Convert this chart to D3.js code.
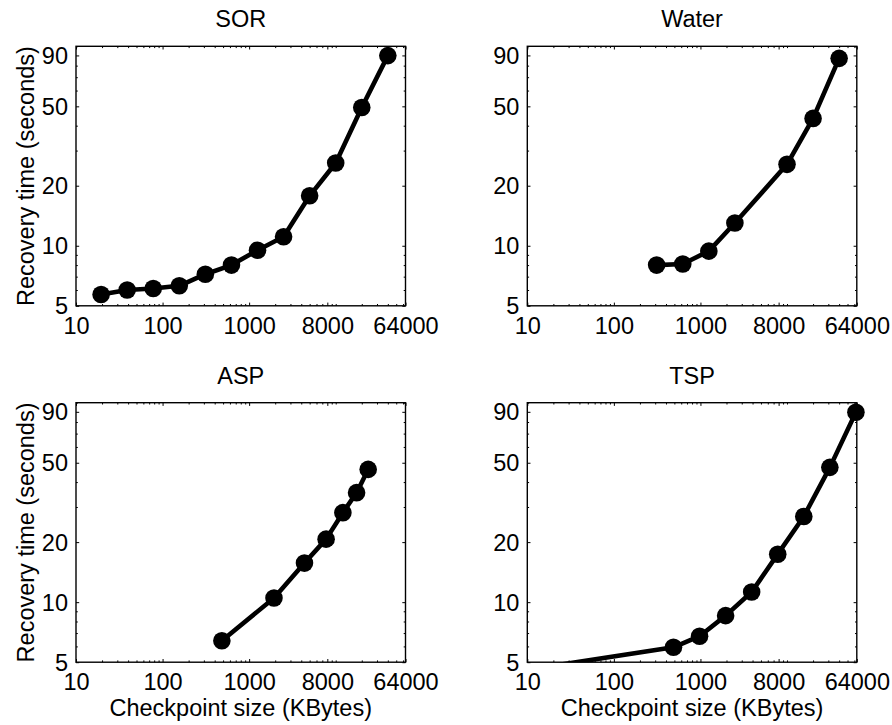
<!DOCTYPE html>
<html>
<head>
<meta charset="utf-8">
<script src="https://cdn.jsdelivr.net/npm/d3@7"></script>
<style>
  html, body { margin: 0; padding: 0; background: #fff; }
  svg { display: block; font-family: "Liberation Sans", Arial, Helvetica, sans-serif; }
</style>
</head>
<body>
<svg id="chart" width="892" height="725"></svg>
<script>
// Recovery time versus checkpoint size for four applications (log-log).
const panelNames = ["SOR", "Water", "ASP", "TSP"];

const sorSize  = [19.5, 39, 78, 156, 312, 625, 1250, 2500, 5000, 10000, 20000, 40000];
const sorTime  = [5.7, 6.0, 6.1, 6.3, 7.2, 8.0, 9.5, 11.1, 17.8, 26, 49.3, 89.8];

const waterSize = [312, 625, 1250, 2500, 10000, 20000, 40000];
const waterTime = [8.0, 8.1, 9.4, 13.0, 25.6, 43.5, 87];

const aspSize = [484, 1936, 4356, 7744, 12100, 17424, 23716];
const aspTime = [6.4, 10.5, 15.7, 20.7, 28.1, 35.4, 46.3];

// first TSP sample lies below the visible range and is clipped by the axes
const tspSize = [15, 488, 977, 1953, 3906, 7813, 15625, 31250, 62500];
const tspTime = [4.71, 5.94, 6.75, 8.56, 11.24, 17.4, 26.9, 47.4, 89.6];

const xTickValues = [10, 100, 1000, 8000, 64000];
const yTickValues = [5, 10, 20, 50, 90];
const xDomain = [10, 64000];
const yDomain = [5, 100];

const xLabelText = "Checkpoint size (KBytes)";
const yLabelText = "Recovery time (seconds)";

const series = [
  { name: panelNames[0], size: sorSize,   time: sorTime },
  { name: panelNames[1], size: waterSize, time: waterTime },
  { name: panelNames[2], size: aspSize,   time: aspTime },
  { name: panelNames[3], size: tspSize,   time: tspTime }
];

// layout
const colLeft = [76, 527.3];
const rowTop = [46.3, 402.7];
const plotW = 329.5;
const plotH = 259.5;
const fontSize = 23.5;

const svg = d3.select("#chart");

// minor tick positions for a log axis: every integer multiple within the domain
function minorTicks(domain, majors) {
  const out = [];
  for (let e = Math.floor(Math.log10(domain[0])); e <= Math.ceil(Math.log10(domain[1])); e++) {
    const base = Math.pow(10, e);
    for (let m = 1; m <= 9; m++) {
      const v = m * base;
      if (v >= domain[0] - 1e-9 && v <= domain[1] + 1e-9 && !majors.includes(v)) out.push(v);
    }
  }
  return out;
}
const xMinor = minorTicks(xDomain, xTickValues);
const yMinor = minorTicks(yDomain, yTickValues);

series.forEach((s, i) => {
  const col = i % 2, row = Math.floor(i / 2);
  const left = colLeft[col], top = rowTop[row];

  const x = d3.scaleLog().domain(xDomain).range([0, plotW]);
  const y = d3.scaleLog().domain(yDomain).range([plotH, 0]);

  const g = svg.append("g").attr("transform", `translate(${left},${top})`);

  const clipId = "clip" + i;
  g.append("clipPath").attr("id", clipId)
    .append("rect").attr("x", 0).attr("y", 0).attr("width", plotW).attr("height", plotH);

  const minorLen = 1.8, majorLen = 3.2;
  const axisStyle = sel => {
    sel.select(".domain").remove();
    sel.selectAll(".tick line").attr("stroke", "#000").attr("stroke-width", 1);
    sel.selectAll(".tick text").attr("fill", "#000")
      .style("font-size", fontSize + "px")
      .style("font-family", "'Liberation Sans', Arial, Helvetica, sans-serif");
  };

  // minor ticks on all four sides (inward)
  g.append("g").attr("transform", `translate(0,${plotH})`)
    .call(d3.axisBottom(x).tickValues(xMinor).tickSize(-minorLen).tickFormat(""))
    .call(axisStyle);
  g.append("g")
    .call(d3.axisTop(x).tickValues(xMinor).tickSize(-minorLen).tickFormat(""))
    .call(axisStyle);
  g.append("g")
    .call(d3.axisLeft(y).tickValues(yMinor).tickSize(-minorLen).tickFormat(""))
    .call(axisStyle);
  g.append("g").attr("transform", `translate(${plotW},0)`)
    .call(d3.axisRight(y).tickValues(yMinor).tickSize(-minorLen).tickFormat(""))
    .call(axisStyle);

  // major ticks with labels
  g.append("g").attr("transform", `translate(0,${plotH})`)
    .call(d3.axisBottom(x).tickValues(xTickValues).tickSize(-majorLen).tickPadding(11.5)
      .tickFormat(d3.format("d")))
    .call(axisStyle);
  g.append("g")
    .call(d3.axisTop(x).tickValues(xTickValues).tickSize(-majorLen).tickFormat(""))
    .call(axisStyle);
  g.append("g")
    .call(d3.axisLeft(y).tickValues(yTickValues).tickSize(-majorLen).tickPadding(8)
      .tickFormat(d3.format("d")))
    .call(axisStyle)
    .selectAll(".tick text").attr("dy", "0.34em");
  g.append("g").attr("transform", `translate(${plotW},0)`)
    .call(d3.axisRight(y).tickValues(yTickValues).tickSize(-majorLen).tickFormat(""))
    .call(axisStyle);

  // frame
  g.append("rect")
    .attr("x", 0).attr("y", 0).attr("width", plotW).attr("height", plotH)
    .attr("fill", "none").attr("stroke", "#000").attr("stroke-width", 1.4);

  // data line, clipped to the plot box
  const pts = s.size.map((v, k) => [v, s.time[k]]);
  const line = d3.line().x(d => x(d[0])).y(d => y(d[1]));
  g.append("path")
    .attr("clip-path", `url(#${clipId})`)
    .attr("d", line(pts))
    .attr("fill", "none").attr("stroke", "#000")
    .attr("stroke-width", 4.6).attr("stroke-linejoin", "round");

  // markers only for samples inside the axis limits
  const inside = pts.filter(d => d[0] >= xDomain[0] && d[0] <= xDomain[1] &&
                                 d[1] >= yDomain[0] && d[1] <= yDomain[1]);
  g.selectAll("circle.pt").data(inside).join("circle")
    .attr("class", "pt")
    .attr("cx", d => x(d[0])).attr("cy", d => y(d[1]))
    .attr("r", 8.8).attr("fill", "#000");

  // title
  g.append("text")
    .attr("x", plotW / 2).attr("y", -19)
    .attr("text-anchor", "middle")
    .style("font-size", fontSize + "px")
    .text(s.name);

  // axis labels on outer panels
  if (col === 0) {
    g.append("text")
      .attr("transform", `translate(-42.5,${plotH / 2}) rotate(-90)`)
      .attr("text-anchor", "middle")
      .style("font-size", fontSize + "px")
      .text(yLabelText);
  }
  if (row === 1) {
    g.append("text")
      .attr("x", plotW / 2).attr("y", plotH + 54)
      .attr("text-anchor", "middle")
      .style("font-size", fontSize + "px")
      .text(xLabelText);
  }
});
</script>
</body>
</html>
